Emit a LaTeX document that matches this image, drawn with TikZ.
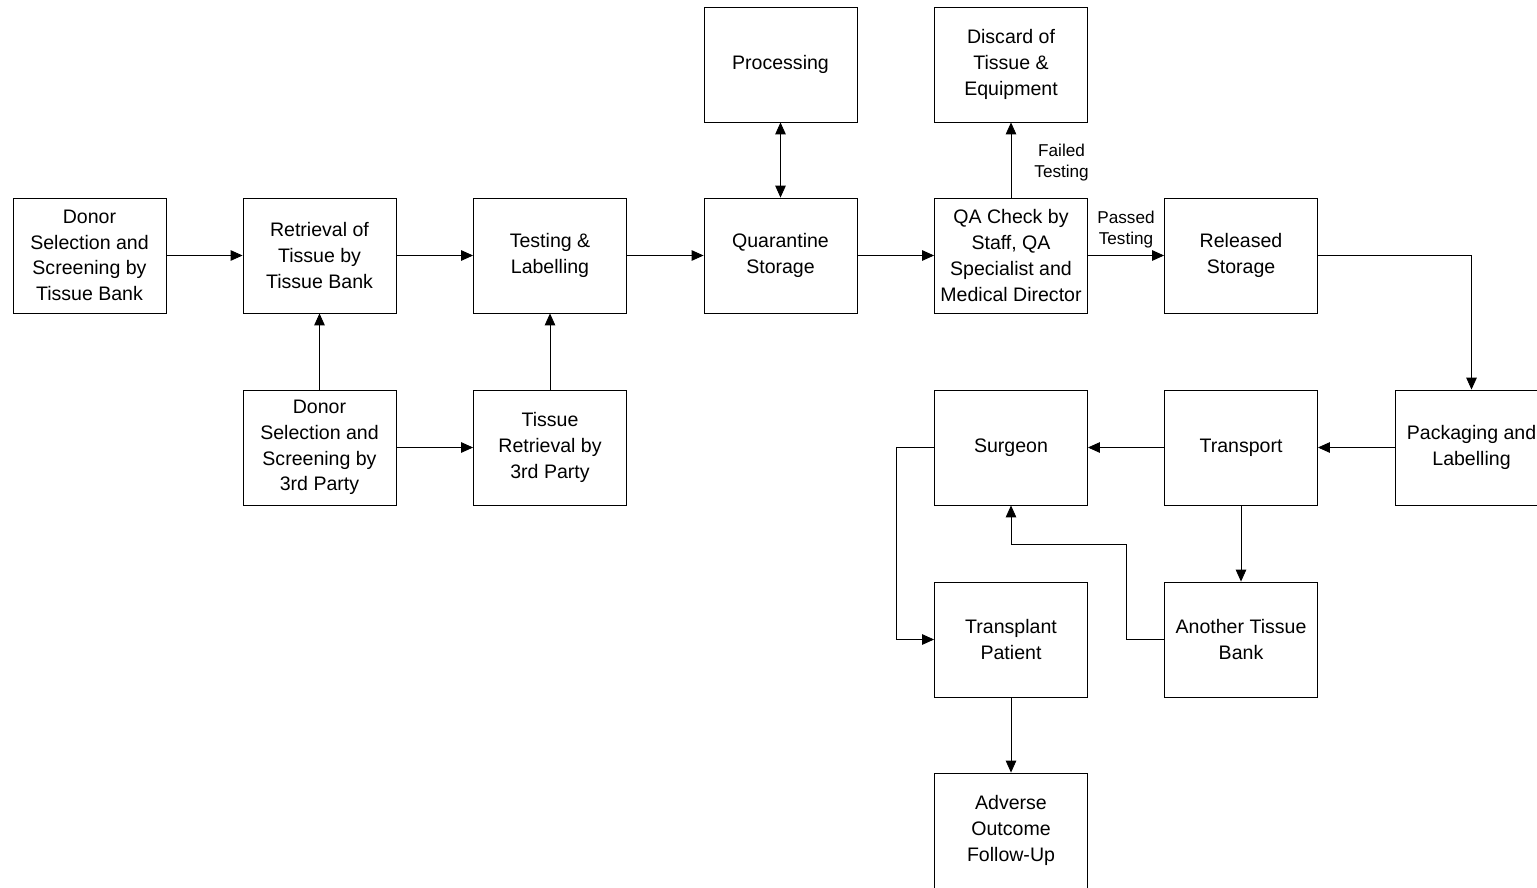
\documentclass[tikz,border=0pt]{standalone}
\usepackage{fontspec}
\setmainfont{Liberation Sans}
\usepackage{tikz}
\usetikzlibrary{arrows.meta,positioning}

\begin{document}
\begin{tikzpicture}[x=0.025cm,y=-0.025cm,>={Triangle[length=8.5pt,width=7.5pt]},line width=0.6pt,
blk/.style={draw,minimum width=3.825cm,minimum height=2.875cm,align=center,inner sep=1pt,
  font=\fontsize{13.9}{18.3}\selectfont},
lbl/.style={align=center,font=\fontsize{12.2}{14.9}\selectfont}]
\clip(0,0)rectangle(1537,887);
% top row
\node[blk](pro)at(780.5,64.5){Processing};
\node[blk](dis)at(1011,64.5){Discard of\\Tissue \&\\Equipment};
% main row
\node[blk](dtb)at(89.5,255.5){Donor\\Selection and\\Screening by\\Tissue Bank};
\node[blk](ret)at(319.5,255.5){Retrieval of\\Tissue by\\Tissue Bank};
\node[blk](tes)at(550,255.5){Testing \&\\Labelling};
\node[blk](qua)at(780.5,255.5){Quarantine\\Storage};
\node[blk](qac)at(1011,255.5){QA Check by\\Staff, QA\\Specialist and\\Medical Director};
\node[blk](rel)at(1241,255.5){Released\\Storage};
% third row
\node[blk](d3p)at(319.5,447.5){Donor\\Selection and\\Screening by\\3rd Party};
\node[blk](t3p)at(550,447.5){Tissue\\Retrieval by\\3rd Party};
\node[blk](sur)at(1011,447.5){Surgeon};
\node[blk](trn)at(1241,447.5){Transport};
\node[blk](pac)at(1471.5,447.5){Packaging and\\Labelling};
% lower rows
\node[blk](pat)at(1011,639.5){Transplant\\Patient};
\node[blk](ano)at(1241,639.5){Another Tissue\\Bank};
\node[blk](adv)at(1011,830.5){Adverse\\Outcome\\Follow-Up};
\coordinate(k1)at(1126,544);
\coordinate(k2)at(896,639.5);
% connectors
\draw[->](dtb)--(ret);
\draw[->](ret)--(tes);
\draw[->](tes)--(qua);
\draw[<->](qua)--(pro);
\draw[->](qua)--(qac);
\draw[->](qac)--(dis)node[lbl,midway,right=13pt,yshift=-2pt]{Failed\\Testing};
\draw[->](qac)--(rel)node[lbl,midway,above=2pt]{Passed\\Testing};
\draw[->](rel)-|(pac);
\draw[->](d3p)--(ret);
\draw[->](d3p)--(t3p);
\draw[->](t3p)--(tes);
\draw[->](pac)--(trn);
\draw[->](trn)--(sur);
\draw[->](trn)--(ano);
\draw[->](ano.west)-|(k1)-|(sur.south);
\draw[->](sur.west)-|(k2)--(pat.west);
\draw[->](pat)--(adv);
\end{tikzpicture}
\end{document}
